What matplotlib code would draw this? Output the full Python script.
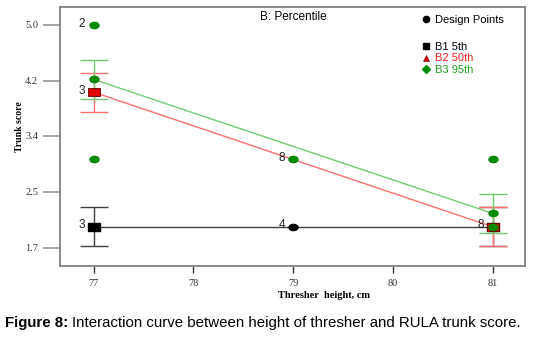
import matplotlib
matplotlib.use("Agg")
import matplotlib.pyplot as plt
from matplotlib.path import Path
from matplotlib.lines import Line2D
import numpy as np

# ---------------- data ----------------
x_levels = [77, 81]
b1_5th = [2.0, 2.0]
b2_50th = [4.0, 2.0]
b3_95th = [4.19, 2.2]
lsd_half = 0.29

dp_x = [77, 77, 77, 77, 79, 79, 81, 81]
dp_y = [5.0, 3.0, 4.0, 2.0, 3.0, 2.0, 3.0, 2.0]
dp_group = ["B3", "B3", "B2", "B1", "B3", "B1", "B3", "B3"]
dp_count = ["2", "", "3", "3", "8", "4", "", "8"]

x_ticks = [77, 78, 79, 80, 81]
y_ticks = [1.69, 2.52, 3.35, 4.17, 5.0]
y_tick_labels = ["1.7", "2.5", "3.4", "4.2", "5.0"]

title = "B: Percentile"
xlabel = "Thresher  height, cm"
ylabel = "Trunk score"
legend_labels = ["Design Points", "B1 5th", "B2 50th", "B3 95th"]

# ---------------- style ----------------
BLACK = "#000000"
RED = "#e00000"
GREEN = "#008a00"
LRED = "#ff7070"
LGREEN = "#70cc70"
GRAY = "#808080"
line_col = {"B1": "#404040", "B2": LRED, "B3": LGREEN}
mark_col = {"B1": BLACK, "B2": RED, "B3": GREEN}

circ = Path.unit_circle()
ellipse = Path(circ.vertices * np.array([1.45, 1.0]), circ.codes)
rect = Path(np.array([[-1.5, -1], [1.5, -1], [1.5, 1], [-1.5, 1], [-1.5, -1]]),
            [Path.MOVETO, Path.LINETO, Path.LINETO, Path.LINETO, Path.CLOSEPOLY])

fig = plt.figure(figsize=(5.34, 3.39), dpi=100)
ax = fig.add_axes([0.113, 0.215, 0.871, 0.765])

ax.set_xlim(76.665, 81.33)
ax.set_ylim(1.415, 5.27)

serif = ["Liberation Serif", "DejaVu Serif"]
sans = ["Liberation Sans", "DejaVu Sans"]

# lines + LSD bars
series = [("B1", b1_5th), ("B2", b2_50th), ("B3", b3_95th)]
for g, ys in series:
    ax.plot(x_levels, ys, color=line_col[g], lw=1.0, zorder=2)
    ax.errorbar(x_levels, ys, yerr=lsd_half, fmt="none", ecolor=line_col[g],
                elinewidth=1.0, capsize=10, capthick=1.0, zorder=2)

# design points
for xx, yy, g, c in zip(dp_x, dp_y, dp_group, dp_count):
    ax.plot([xx], [yy], marker=ellipse, ms=6.5, color=mark_col[g],
            mec=mark_col[g], ls="none", zorder=3)
    if c:
        ax.annotate(c, (xx, yy), xytext=(-6, 1), textcoords="offset points",
                    ha="right", va="center", fontsize=8.5, family=sans,
                    color="#222222", zorder=5)

# mean markers
ax.plot(x_levels, b1_5th, marker=rect, ms=8, color=BLACK, ls="none", zorder=4)
ax.plot(x_levels, b2_50th, marker=rect, ms=8, color=RED, mec="#600000",
        mew=0.6, ls="none", zorder=4)
ax.plot(x_levels, b3_95th, marker=ellipse, ms=6.5, color=GREEN, ls="none", zorder=4)
ax.plot([dp_x[-1]], [dp_y[-1]], marker=ellipse, ms=6.5, color=GREEN, ls="none", zorder=4.5)

# axes styling
for s in ax.spines.values():
    s.set_color(GRAY)
    s.set_linewidth(1.3)
ax.set_xticks(x_ticks)
ax.set_xticklabels([str(t) for t in x_ticks], family=serif, fontsize=7.5, color="#333333")
ax.set_yticks(y_ticks)
ax.set_yticklabels(y_tick_labels, family=serif, fontsize=7.5, color="#333333")
ax.tick_params(axis="y", direction="out", length=12, width=1.3, color="#a0a0a0", pad=4)
ax.tick_params(axis="x", direction="out", length=5, width=1.0, color="#333333", pad=4)

ax.text(0.5, 0.985, title, transform=ax.transAxes, ha="center", va="top",
        fontsize=8.5, family=sans)

fig.text(0.607, 0.128, xlabel, ha="center", va="center", fontsize=7.5,
         family=serif, weight="bold")
fig.text(0.036, 0.625, ylabel, ha="center", va="center", rotation=90,
         fontsize=7, family=serif, weight="bold")

# legends
h1 = [Line2D([], [], marker="o", color=BLACK, ls="none", ms=4.5)]
leg1 = ax.legend(h1, legend_labels[:1], loc="upper left",
                 bbox_to_anchor=(0.765, 0.985), frameon=False,
                 prop={"family": sans, "size": 8}, handletextpad=0.3,
                 handlelength=1.0, borderaxespad=0)
ax.add_artist(leg1)
h2 = [Line2D([], [], marker="s", color=BLACK, ls="none", ms=4),
      Line2D([], [], marker="^", color=RED, mec="#600000", mew=0.4, ls="none", ms=4.5),
      Line2D([], [], marker="D", color=GREEN, ls="none", ms=4)]
ax.legend(h2, legend_labels[1:], loc="upper left", bbox_to_anchor=(0.765, 0.88),
          frameon=False, prop={"family": sans, "size": 8}, handletextpad=0.3,
          handlelength=1.0, labelspacing=0.1, borderaxespad=0,
          labelcolor=[BLACK, "#ff2020", "#20a020"])

# caption
cap_y = 0.048
t1 = fig.text(0.01, cap_y, "Figure 8:", ha="left", va="center", fontsize=10.8,
              family=sans, weight="bold")
fig.canvas.draw()
bb = t1.get_window_extent(fig.canvas.get_renderer())
fig.text(bb.x1 / fig.bbox.width + 0.006, cap_y,
         "Interaction curve between height of thresher and RULA trunk score.",
         ha="left", va="center", fontsize=10.8, family=sans)

fig.savefig("out.png", dpi=100)
